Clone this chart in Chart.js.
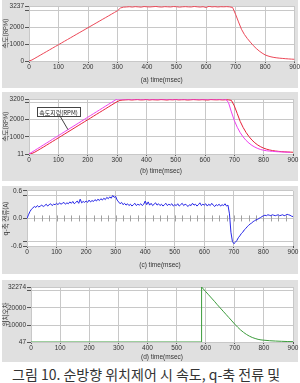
<!DOCTYPE html>
<html>
<head>
<meta charset="utf-8">
<script src="https://cdn.jsdelivr.net/npm/chart.js@4.4.0/dist/chart.umd.min.js"></script>
<style>
  body { margin: 0; width: 300px; height: 383px; background: #fff; position: relative; overflow: hidden; }
  .panel { position: absolute; left: 2px; width: 296px; background: #e0e0e0; }
  canvas { position: absolute; left: 0; }
  #caption { position: absolute; left: 12px; top: 364px; font: 14px "Noto Sans CJK KR"; color: #333; white-space: nowrap; }
</style>
</head>
<body>
<div class="panel" style="top:0;height:88px"></div>
<canvas id="c1" width="300" height="88" style="top:0"></canvas>
<div class="panel" style="top:92px;height:89px"></div>
<canvas id="c2" width="300" height="89" style="top:92px"></canvas>
<div class="panel" style="top:186px;height:88px"></div>
<canvas id="c3" width="300" height="88" style="top:186px"></canvas>
<div class="panel" style="top:280px;height:82px"></div>
<canvas id="c4" width="300" height="82" style="top:280px"></canvas>
<div id="caption">그림 10. 순방향 위치제어 시 속도, q-축 전류 및</div>
<script>
// time axis (msec)
const timeTicks = [0, 100, 200, 300, 400, 500, 600, 700, 800, 900];

const t10 = [0,10,20,30,40,50,60,70,80,90,100,110,120,130,140,150,160,170,180,190,
  200,210,220,230,240,250,260,270,280,290,300,310,320,330,340,350,360,370,380,390,
  400,410,420,430,440,450,460,470,480,490,500,510,520,530,540,550,560,570,580,590,
  600,610,620,630,640,650,660,670,680,690,700,710,720,730,740,750,760,770,780,790,
  800,810,820,830,840,850,860,870,880,890,900];

const t5 = [0,5,10,15,20,25,30,35,40,45,50,55,60,65,70,75,80,85,90,95,
  100,105,110,115,120,125,130,135,140,145,150,155,160,165,170,175,180,185,190,195,
  200,205,210,215,220,225,230,235,240,245,250,255,260,265,270,275,280,285,290,295,
  300,305,310,315,320,325,330,335,340,345,350,355,360,365,370,375,380,385,390,395,
  400,405,410,415,420,425,430,435,440,445,450,455,460,465,470,475,480,485,490,495,
  500,505,510,515,520,525,530,535,540,545,550,555,560,565,570,575,580,585,590,595,
  600,605,610,615,620,625,630,635,640,645,650,655,660,665,670,675,680,685,690,695,
  700,705,710,715,720,725,730,735,740,745,750,755,760,765,770,775,780,785,790,795,
  800,805,810,815,820,825,830,835,840,845,850,855,860,865,870,875,880,885,890,895,
  900];

// (a) speed (RPM)
const speedA = [0,60,160,260,360,460,560,660,760,860,
  960,1060,1160,1260,1360,1460,1560,1660,1760,1860,
  1960,2060,2160,2260,2360,2460,2560,2660,2760,2860,
  2960,3120,3170,
  3180,3195,3175,3200,3185,3170,3205,3190,3180,3195,3210,3185,3175,3200,3190,3180,3205,3195,
  3170,3190,3200,3185,3180,3210,3190,3175,3195,3150,3220,3185,3200,3180,3195,3190,3200,3185,
  3150,2750,2300,1870,1560,1320,1110,910,740,590,465,360,295,245,210,185,165,150,135,122,110,100];
const speedATicks = [0, 1000, 2000, 3000, 3237];
const speedALabels = ['0', '1000', '2000', '', '3237'];

// (b) speed command and actual speed (RPM)
const speedCmd = [11,117,224,330,436,543,649,755,862,968,
  1074,1181,1287,1393,1500,1606,1712,1819,1925,2031,
  2138,2244,2350,2457,2563,2669,2776,2882,2988,3095,
  3200,3200,3200,3200,3200,3200,3200,3200,3200,3200,3200,3200,3200,3200,3200,3200,3200,3200,3200,
  3200,3200,3200,3200,3200,3200,3200,3200,3200,3200,3200,3200,3200,3200,3200,3200,3200,3200,3200,
  3000,2450,1950,1560,1250,1000,800,640,510,410,330,270,230,200,180,165,150,140,130,122,115,110];
const speedAct = [11,40,120,220,320,420,525,630,735,840,
  945,1050,1155,1260,1365,1470,1575,1680,1785,1890,
  1995,2100,2205,2310,2415,2520,2625,2730,2835,2940,
  3040,3120,3140,
  3150,3160,3140,3155,3165,3145,3150,3170,3140,3160,3150,3145,3165,3155,3140,3160,3150,3170,
  3145,3155,3160,3140,3150,3165,3155,3145,3160,3150,3140,3165,3155,3150,3160,3145,3155,3150,
  3120,2800,2350,1900,1550,1260,1020,820,660,530,430,350,290,245,210,185,165,150,138,128,120,112];
const speedBTicks = [11, 1000, 2000, 3000, 3200];
const speedBLabels = ['11', '1000', '2000', '', '3200'];
const noteTime = 133;
const noteValue = 1421;

// (c) q-axis current (A)
const currentQ = [0.00,0.08,0.15,0.20,0.23,0.26,0.24,0.28,0.25,0.27,
  0.29,0.26,0.28,0.31,0.27,0.30,0.32,0.28,0.31,0.30,
  0.33,0.30,0.34,0.31,0.33,0.35,0.31,0.34,0.32,0.36,
  0.33,0.37,0.32,0.35,0.38,0.33,0.42,0.34,0.37,0.35,
  0.38,0.35,0.40,0.36,0.39,0.37,0.41,0.38,0.42,0.39,
  0.43,0.40,0.44,0.41,0.46,0.43,0.47,0.44,0.50,0.46,
  0.48,0.40,0.36,0.32,0.35,0.30,0.33,0.29,0.32,0.28,
  0.31,0.27,0.30,0.33,0.28,0.31,0.29,0.32,0.28,0.31,
  0.38,0.30,0.36,0.29,0.33,0.28,0.31,0.34,0.29,0.32,
  0.28,0.31,0.27,0.30,0.33,0.28,0.31,0.29,0.32,0.27,
  0.30,0.28,0.32,0.27,0.30,0.33,0.28,0.31,0.29,0.26,
  0.30,0.28,0.33,0.29,0.31,0.27,0.30,0.34,0.28,0.31,
  0.29,0.32,0.27,0.31,0.28,0.33,0.29,0.26,0.30,0.28,
  0.31,0.27,0.30,0.28,0.32,0.27,0.29,0.10,-0.30,-0.50,
  -0.55,-0.52,-0.48,-0.42,-0.38,-0.33,-0.30,-0.25,-0.22,-0.18,
  -0.15,-0.12,-0.10,-0.07,-0.05,-0.03,-0.02,0.00,0.02,0.04,
  0.06,0.07,0.06,0.08,0.07,0.06,0.08,0.07,0.06,0.07,
  0.08,0.06,0.07,0.08,0.06,0.07,0.09,0.08,0.07,0.05,
  0.04];
const currentTicks = [-0.6, -0.5, 0, 0.5, 0.6];
const currentLabels = ['-0.6', '', '0.0', '', '0.6'];

// (d) position error
const posTime = [0,100,200,300,400,500,586,586,600,610,620,630,640,650,660,670,680,690,700,
  710,720,730,740,750,760,770,780,790,800,820,840,860,880,900];
const posErr = [47,47,47,47,47,47,47,32274,29600,27700,25800,23900,21900,20000,18100,16200,14300,12400,10500,
  8700,7100,5700,4500,3500,2700,2100,1600,1300,1100,800,600,450,330,250];
const posTicks = [47, 10000, 20000, 30000, 32274];
const posLabels = ['47', '10000', '20000', '', '32274'];

const tickFont = { family: '"Liberation Sans Narrow", "Liberation Sans", sans-serif', size: 6.5 };
const titleFont = { family: '"Liberation Sans", sans-serif', size: 6.5 };
const yTitleFont = { family: '"Noto Sans CJK KR", sans-serif', size: 6.5 };
const gridColor = '#c8c8c8';

let points = (xs, ys) => xs.map((x, i) => ({ x: x, y: ys[i] }));

// white plot area on the grey panel
const whiteArea = {
  id: 'whiteArea',
  beforeDraw(chart) {
    const a = chart.chartArea, ctx = chart.ctx;
    ctx.save();
    ctx.fillStyle = '#fff';
    ctx.fillRect(a.left, a.top, a.right - a.left, a.bottom - a.top);
    ctx.restore();
  }
};

const makeChart = (id, datasets, o, extra) => {
  return new Chart(document.getElementById(id), {
    type: 'line',
    data: { datasets: datasets },
    options: {
      responsive: false,
      animation: false,
      layout: { padding: { top: o.top, right: o.right, left: 0, bottom: 0 } },
      plugins: { legend: { display: false }, tooltip: { enabled: false } },
      elements: { point: { radius: 0 }, line: { borderWidth: 1, tension: 0 } },
      scales: {
        x: {
          type: 'linear', min: 0, max: 900,
          afterBuildTicks: s => { s.ticks = timeTicks.map(v => ({ value: v })); },
          afterFit: s => { s.height = o.xH; },
          ticks: { font: tickFont, color: '#333', padding: 0, maxRotation: 0, callback: v => String(v) },
          grid: { color: gridColor, tickLength: 2, tickColor: '#555' },
          border: { display: false },
          title: { display: true, text: o.xTitle, font: titleFont, color: '#333', padding: { top: 0, bottom: o.titlePad } }
        },
        y: {
          min: o.yTicks[0], max: o.yTicks[o.yTicks.length - 1],
          afterBuildTicks: s => { s.ticks = o.yTicks.map(v => ({ value: v })); },
          afterFit: s => { s.width = o.left; },
          ticks: { font: tickFont, color: '#333', padding: 1, callback: (v, i) => o.yLabels[i] },
          grid: { color: gridColor, tickLength: 4, tickColor: '#555' },
          border: { display: false },
          title: { display: true, text: o.yTitle, font: yTitleFont, color: '#333', padding: { top: 2, bottom: 0 } }
        }
      }
    },
    plugins: [whiteArea].concat(extra || [])
  });
};

// (a)
makeChart('c1', [
  { data: points(t10, speedA), borderColor: '#ec4858' }
], { top: 6, right: 5, left: 29, xH: 27, titlePad: 4, xTitle: '(a) time(msec)', yTitle: '속도(RPM)', yTicks: speedATicks, yLabels: speedALabels });

// (b) with the command label
const cmdNote = {
  id: 'cmdNote',
  afterDatasetsDraw(chart) {
    const ctx = chart.ctx, a = chart.chartArea;
    const px = chart.scales.x.getPixelForValue(noteTime);
    const py = chart.scales.y.getPixelForValue(noteValue);
    const bx = a.left + 8, by = a.top + 8, bw = 43, bh = 9;
    ctx.save();
    ctx.strokeStyle = '#444';
    ctx.lineWidth = 1;
    ctx.beginPath();
    ctx.moveTo(bx + 23, by + bh);
    ctx.lineTo(px, py);
    ctx.stroke();
    ctx.fillStyle = '#fff';
    ctx.fillRect(bx, by, bw, bh);
    ctx.strokeRect(bx + 0.5, by + 0.5, bw, bh);
    ctx.fillStyle = '#222';
    ctx.font = '6px "Noto Sans CJK KR"';
    ctx.textBaseline = 'middle';
    ctx.textAlign = 'center';
    ctx.fillText('속도지령(RPM)', bx + bw / 2, by + bh / 2 + 1);
    ctx.restore();
  }
};
makeChart('c2', [
  { data: points(t10, speedCmd), borderColor: '#f040f0' },
  { data: points(t10, speedAct), borderColor: '#e8203a' }
], { top: 7, right: 7, left: 29, xH: 27, titlePad: 6, xTitle: '(b) time(msec)', yTitle: '속도(RPM)', yTicks: speedBTicks, yLabels: speedBLabels }, [cmdNote]);

// (c) with small marks along the zero line
const zeroMarks = {
  id: 'zeroMarks',
  beforeDatasetsDraw(chart) {
    const ctx = chart.ctx, x = chart.scales.x;
    const y0 = chart.scales.y.getPixelForValue(0);
    ctx.save();
    ctx.strokeStyle = '#a0a0a0';
    ctx.lineWidth = 1;
    ctx.beginPath();
    for (let t = 25; t < 900; t += 25) {
      const px = Math.round(x.getPixelForValue(t)) + 0.5;
      ctx.moveTo(px, y0 - 3);
      ctx.lineTo(px, y0 + 3);
    }
    ctx.stroke();
    ctx.restore();
  }
};
makeChart('c3', [
  { data: points(t5, currentQ), borderColor: '#2828e8' }
], { top: 3, right: 7, left: 27, xH: 28, titlePad: 5, xTitle: '(c) time(msec)', yTitle: 'q-축 전류(A)', yTicks: currentTicks, yLabels: currentLabels }, [zeroMarks]);

// (d)
makeChart('c4', [
  { data: points(posTime, posErr), borderColor: '#3c9c3c' }
], { top: 7, right: 7, left: 31, xH: 20, titlePad: 1, xTitle: '(d) time(msec)', yTitle: '위치오차', yTicks: posTicks, yLabels: posLabels });
</script>
</body>
</html>
